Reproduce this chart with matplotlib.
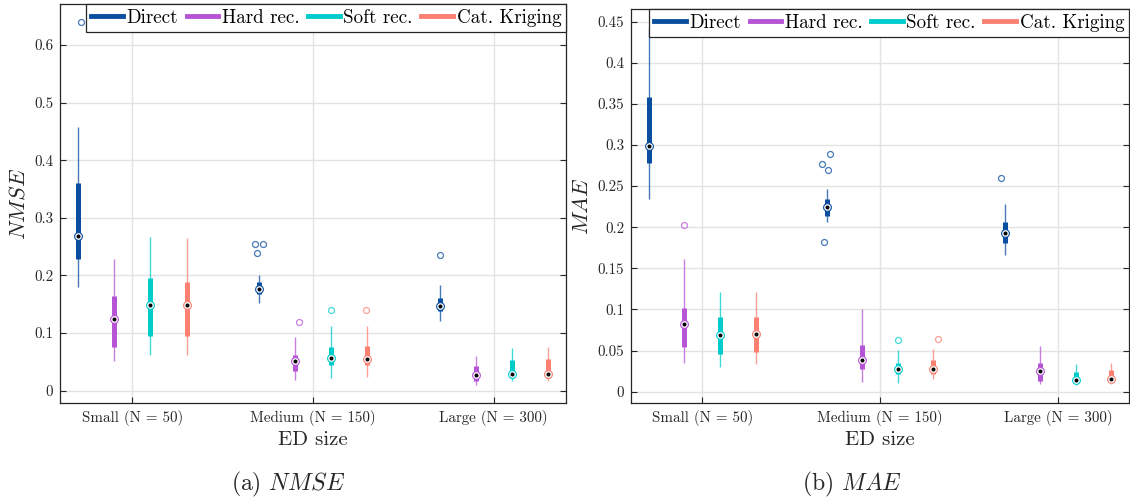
import matplotlib.pyplot as plt
from matplotlib.ticker import FuncFormatter

plt.rcParams['font.family'] = 'serif'
plt.rcParams['font.serif'] = ['cmr10']
plt.rcParams['mathtext.fontset'] = 'cm'
plt.rcParams['axes.formatter.use_mathtext'] = True

sizes = ['Small (N = 50)', 'Medium (N = 150)', 'Large (N = 300)']
methods = ['Direct', 'Hard rec.', 'Soft rec.', 'Cat. Kriging']
colors = ['#0a4ea0', '#b654d6', '#00cccc', '#fa8072']

# (whisker low, q1, median, q3, whisker high) for Small, Medium, Large
nmse_direct = [(0.180, 0.228, 0.269, 0.360, 0.458), (0.152, 0.168, 0.177, 0.188, 0.200), (0.121, 0.138, 0.1465, 0.160, 0.183)]
nmse_hard = [(0.051, 0.0765, 0.125, 0.165, 0.229), (0.018, 0.0335, 0.051, 0.061, 0.093), (0.0097, 0.0167, 0.027, 0.042, 0.0596)]
nmse_soft = [(0.061, 0.0955, 0.149, 0.195, 0.267), (0.0226, 0.044, 0.057, 0.075, 0.112), (0.016, 0.022, 0.0295, 0.0527, 0.0747)]
nmse_cat = [(0.061, 0.0955, 0.149, 0.189, 0.265), (0.023, 0.0445, 0.055, 0.077, 0.112), (0.016, 0.022, 0.0295, 0.054, 0.0758)]

mae_direct = [(0.2344, 0.278, 0.299, 0.358, 0.442), (0.2068, 0.214, 0.225, 0.2344, 0.2466), (0.1663, 0.1813, 0.1934, 0.2068, 0.2283)]
mae_hard = [(0.0345, 0.054, 0.0824, 0.1015, 0.161), (0.0122, 0.0272, 0.0382, 0.0568, 0.1002), (0.0094, 0.0134, 0.0256, 0.0345, 0.0556)]
mae_soft = [(0.0297, 0.0459, 0.0694, 0.0913, 0.1213), (0.011, 0.0211, 0.0272, 0.0353, 0.0503), (0.0078, 0.011, 0.0139, 0.0236, 0.0337)]
mae_cat = [(0.034, 0.0487, 0.0698, 0.0905, 0.1213), (0.015, 0.0215, 0.0272, 0.0386, 0.0516), (0.0094, 0.0122, 0.0151, 0.026, 0.0349)]

# outliers: (size index, value, jitter)
nmse_out_direct = [(0, 0.639, 0.014), (1, 0.255, -0.022), (1, 0.254, 0.024), (1, 0.239, -0.009), (2, 0.236, 0.0)]
nmse_out_hard = [(1, 0.119, 0.022)]
nmse_out_soft = [(1, 0.1395, 0.0)]
nmse_out_cat = [(1, 0.1407, -0.009)]

mae_out_direct = [(1, 0.2766, -0.025), (1, 0.2888, 0.019), (1, 0.2697, 0.006), (1, 0.1821, -0.013), (2, 0.260, -0.017)]
mae_out_hard = [(0, 0.2024, 0.0)]
mae_out_soft = [(1, 0.0633, 0.0)]
mae_out_cat = [(1, 0.0645, 0.024)]

offsets = [-0.3, -0.1, 0.1, 0.3]


def compact_box(ax, stats, outliers, off, color):
    for i, (lo, q1, med, q3, hi) in enumerate(stats):
        x = i + 1 + off
        ax.vlines(x, lo, hi, color=color, lw=1.0, alpha=0.75, zorder=3)
        ax.vlines(x, q1, q3, color=color, lw=3.6, zorder=4)
        ax.plot(x, med, 'o', ms=5.6, mfc='white', mec=color, mew=0.8, zorder=5)
        ax.plot(x, med, 'o', ms=1.9, color='black', zorder=6)
    for i, v, j in outliers:
        ax.plot(i + 1 + off + j, v, 'o', ms=4.3, mfc='none', mec=color, mew=0.9, alpha=0.75, zorder=3)


def setup(ax, ylim, yticks, ylabel):
    ax.set_xlim(0.6, 3.4)
    ax.set_ylim(*ylim)
    ax.set_xticks([1, 2, 3])
    ax.set_xticklabels(sizes, fontsize=10.8, color='#262626')
    ax.set_yticks(yticks)
    ax.yaxis.set_major_formatter(FuncFormatter(lambda v, p: '%g' % v))
    ax.tick_params(axis='y', labelsize=10.8, labelcolor='#262626')
    ax.tick_params(direction='in', length=4.5, width=0.8, color='#262626',
                   top=True, right=True, pad=5)
    ax.grid(True, color='#e3e3e3', lw=1.0)
    ax.set_axisbelow(True)
    for s in ax.spines.values():
        s.set_color('#262626')
        s.set_linewidth(0.9)
    ax.set_xlabel('ED size', fontsize=15, color='#262626', labelpad=4)
    ax.set_ylabel(ylabel, fontsize=16, color='#262626', labelpad=4)
    handles = [plt.Line2D([], [], color=c, lw=3.5) for c in colors]
    leg = ax.legend(handles, methods, loc='upper right', bbox_to_anchor=(1, 1),
                    borderaxespad=0, ncol=4, fontsize=13.7, handlelength=1.65,
                    handletextpad=0.2, columnspacing=0.45, borderpad=0.25,
                    fancybox=False, framealpha=1, edgecolor='#262626')
    leg.get_frame().set_linewidth(0.9)


fig = plt.figure(figsize=(11.3, 5.01), dpi=100)
ax1 = fig.add_axes([60 / 1130, 1 - 403 / 501, 506 / 1130, 399 / 501])
ax2 = fig.add_axes([631 / 1130, 1 - 403 / 501, 498 / 1130, 393.7 / 501])

nmse_all = [nmse_direct, nmse_hard, nmse_soft, nmse_cat]
nmse_outs = [nmse_out_direct, nmse_out_hard, nmse_out_soft, nmse_out_cat]
mae_all = [mae_direct, mae_hard, mae_soft, mae_cat]
mae_outs = [mae_out_direct, mae_out_hard, mae_out_soft, mae_out_cat]

for k in range(4):
    compact_box(ax1, nmse_all[k], nmse_outs[k], offsets[k], colors[k])
    compact_box(ax2, mae_all[k], mae_outs[k], offsets[k], colors[k])

setup(ax1, (-0.0215, 0.671), [0, 0.1, 0.2, 0.3, 0.4, 0.5, 0.6], '$NMSE$')
setup(ax2, (-0.0137, 0.465), [0, 0.05, 0.1, 0.15, 0.2, 0.25, 0.3, 0.35, 0.4, 0.45], '$MAE$')

fig.text(288 / 1130, 1 - 484 / 501, '(a) $NMSE$', ha='center', va='center', fontsize=17, color='#262626')
fig.text(852 / 1130, 1 - 484 / 501, '(b) $MAE$', ha='center', va='center', fontsize=17, color='#262626')

fig.savefig('out.png', dpi=100)
